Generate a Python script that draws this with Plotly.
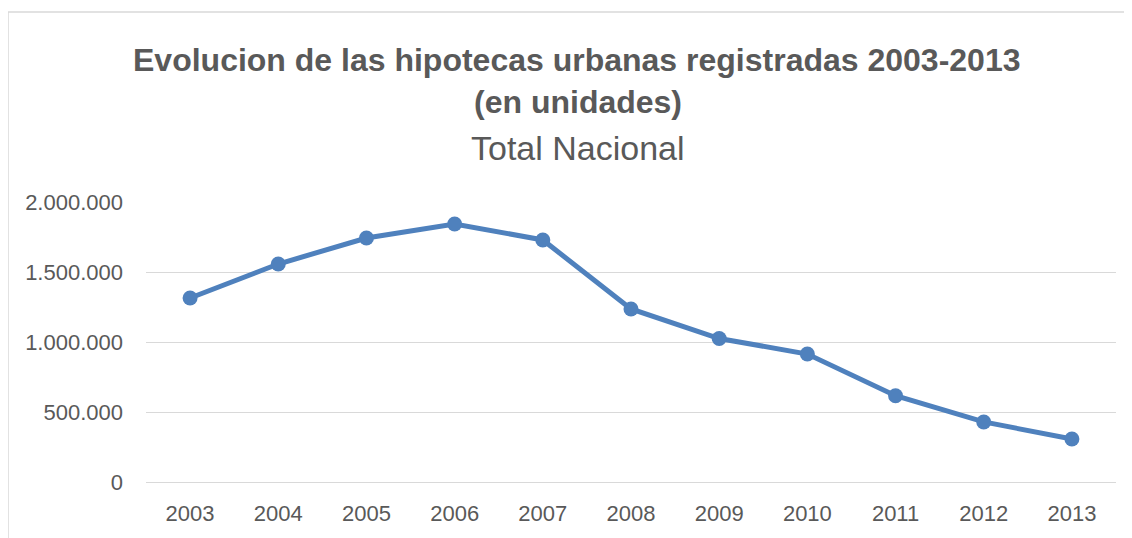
import plotly.graph_objects as go

years = ["2003", "2004", "2005", "2006", "2007", "2008", "2009", "2010", "2011", "2012", "2013"]
hipotecas = [1314000, 1557000, 1743000, 1843000, 1729000, 1236000, 1025000, 914000, 616000, 429000, 307000]
y_tickvals = [0, 500000, 1000000, 1500000, 2000000]
y_ticktext = ["0", "500.000", "1.000.000", "1.500.000", "2.000.000"]

title_line1 = "Evolucion de las hipotecas urbanas registradas 2003-2013"
title_line2 = "(en unidades)"
subtitle = "Total Nacional"

OFF = 8  # page body margin
W, H = 1132, 538
# target plot area in screen pixels
SX0, SX1, SY0, SY1 = 146, 1116, 202, 482
L, T = SX0 - OFF, SY0 - OFF
R, B = W - (SX1 - OFF), H - (SY1 - OFF)
pw, ph = W - L - R, H - T - B

def px_x(p):
    return (p - OFF - L) / pw

def px_y(p):
    return (H - B - (p - OFF)) / ph

line_color = "#4F81BD"
text_color = "#595959"
grid_color = "#D9D9D9"
font_family = "Liberation Sans, Arial, sans-serif"

fig = go.Figure()
fig.add_trace(go.Scatter(
    x=years, y=hipotecas, mode="lines+markers",
    line=dict(color=line_color, width=5),
    marker=dict(color=line_color, size=15),
    showlegend=False, cliponaxis=False,
))

fig.update_layout(
    width=W, height=H,
    margin=dict(l=L, r=R, t=T, b=B, pad=0),
    paper_bgcolor="white", plot_bgcolor="white",
    font=dict(family=font_family, color=text_color, size=22),
    xaxis=dict(
        type="category", range=[-0.5, len(years) - 0.5],
        showgrid=False, showline=True, linecolor=grid_color, linewidth=1,
        ticks="", tickfont=dict(size=22, color=text_color), ticklabelstandoff=12,
        zeroline=False,
    ),
    yaxis=dict(
        range=[0, 2000000], tickvals=y_tickvals, ticktext=y_ticktext,
        showgrid=True, gridcolor=grid_color, gridwidth=1, zeroline=False,
        showline=False, ticks="", tickfont=dict(size=22, color=text_color),
        ticklabelstandoff=22,
    ),
    shapes=[dict(
        type="rect", xref="paper", yref="paper",
        x0=px_x(8), x1=px_x(1150), y0=px_y(560), y1=px_y(12),
        line=dict(color=grid_color, width=1.5), fillcolor="rgba(0,0,0,0)", layer="below",
    )],
    annotations=[
        dict(text="<b>" + title_line1 + "</b>", xref="paper", yref="paper",
             x=px_x(577), y=px_y(60), xanchor="center", yanchor="middle",
             showarrow=False, font=dict(size=32, color=text_color, family=font_family)),
        dict(text="<b>" + title_line2 + "</b>", xref="paper", yref="paper",
             x=px_x(578), y=px_y(102), xanchor="center", yanchor="middle",
             showarrow=False, font=dict(size=32, color=text_color, family=font_family)),
        dict(text=subtitle, xref="paper", yref="paper",
             x=px_x(578), y=px_y(148), xanchor="center", yanchor="middle",
             showarrow=False, font=dict(size=34, color=text_color, family=font_family)),
    ],
)

fig.write_html("out.html")
